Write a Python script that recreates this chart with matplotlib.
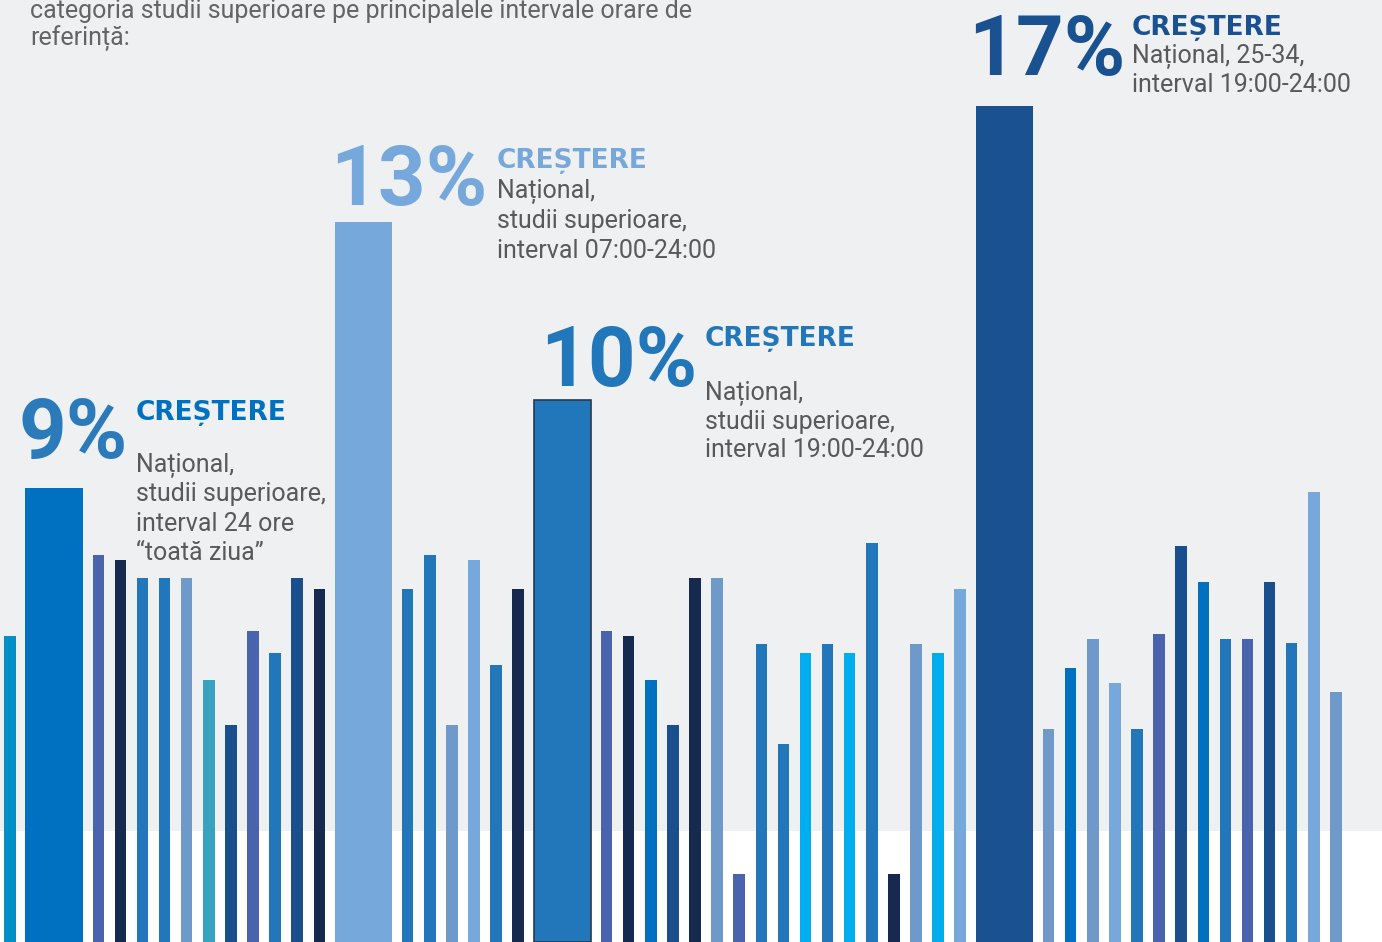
import matplotlib
matplotlib.use("Agg")
import matplotlib.pyplot as plt

# bar heights (arbitrary units) and colour keys
heights = [306, 454, 387, 382, 364, 364, 364, 262, 217, 311, 289, 364, 353,
           720, 353, 387, 217, 382, 277, 353, 542, 311, 306, 262, 217, 364,
           364, 68, 298, 198, 289, 298, 289, 399, 68, 298, 289, 353, 836,
           213, 274, 303, 259, 213, 308, 396, 360, 303, 303, 360, 299, 450, 250]
color_keys = ["A", "B", "P", "N", "M", "M", "G", "T", "D", "P", "M", "D", "N",
              "L", "M", "M", "G", "L", "M", "N", "M", "P", "N", "B", "D", "N",
              "G", "P", "M", "M", "C", "M", "C", "M", "N", "G", "C", "L", "D2",
              "G", "B", "G", "L", "M", "P", "D", "B", "M", "P", "D", "M", "L", "G"]
highlight = [1, 13, 20, 38]          # the four wide bars
pct_labels = ["9%", "13%", "10%", "17%"]
head_label = "CREȘTERE"
notes = [
    ["Național,", "studii superioare,", "interval 24 ore", "“toată ziua”"],
    ["Național,", "studii superioare,", "interval 07:00-24:00"],
    ["Național,", "studii superioare,", "interval 19:00-24:00"],
    ["Național, 25-34,", "interval 19:00-24:00"],
]
intro = ["categoria studii superioare pe principalele intervale orare de",
         "referință:"]

palette = {
    "A": "#0090c8", "B": "#0070c0", "P": "#4a63ad", "N": "#16294f",
    "M": "#2177ba", "G": "#6e99c9", "T": "#38a3c0", "D": "#1a4f8e",
    "L": "#76a8dc", "C": "#00adee", "D2": "#1a5190",
}
label_colors = ["#2b7bba", "#76a8dc", "#2177ba", "#1a5190"]
head_colors = ["#0070c0", "#76a8dc", "#2177ba", "#1a5190"]
text_gray = "#58595b"

W, H = 1382, 942
fig = plt.figure(figsize=(W / 100, H / 100), dpi=100)
fig.patch.set_facecolor("white")
ax = fig.add_axes([0, 0, 1, 1])
ax.axis("off")

# slot positions: wide bars take three slots
pos = []
s = 0
for i in range(len(heights)):
    big = i in highlight
    if big:
        s += 1
    pos.append(s)
    s += 2 if big else 1

px0, step = 9.9, 22.1   # pixel of slot 0, pixels per slot
ax.set_xlim(-px0 / step, (W - px0) / step)
ax.set_ylim(0, H)

# light grey panel, white strip at the bottom
ax.axhspan(111, H, color="#eff0f2", zorder=0, lw=0)

for i, (x, h) in enumerate(zip(pos, heights)):
    big = i in highlight
    ax.bar(x, h, width=(57.5 if big else 11.5) / step, bottom=0,
           color=palette[color_keys[i]], zorder=2,
           edgecolor="#2a3a4a" if i == 20 else "none",
           linewidth=1.2 if i == 20 else 0)

def ftext(x, y, s, **kw):
    fig.text(x / W, 1 - y / H, s, va="baseline", ha="left", **kw)

# intro text cut at the top
for k, line in enumerate(intro):
    ftext(30, 18 + 28 * k, line, fontsize=18, color="#636466", family="Roboto")

# annotations (pixel anchors for the four callouts)
pct_xy = [(19, 458), (330, 205), (540, 386), (968, 75)]
head_xy = [(136, 420), (497, 168), (705, 346), (1132, 35)]
note_xy = [(136, 472, 29.3), (497, 198, 30), (705, 400, 28.5), (1132, 63, 29)]

for k in range(4):
    ftext(*pct_xy[k], pct_labels[k], fontsize=60, fontweight="bold",
          color=label_colors[k], family="Roboto")
    ftext(*head_xy[k], head_label, fontsize=19, fontweight="bold",
          color=head_colors[k], family="DejaVu Sans")
    nx, ny, dy = note_xy[k]
    for j, line in enumerate(notes[k]):
        ftext(nx, ny + dy * j, line, fontsize=18, color=text_gray,
              family="Roboto")

fig.savefig("out.png", dpi=100)
